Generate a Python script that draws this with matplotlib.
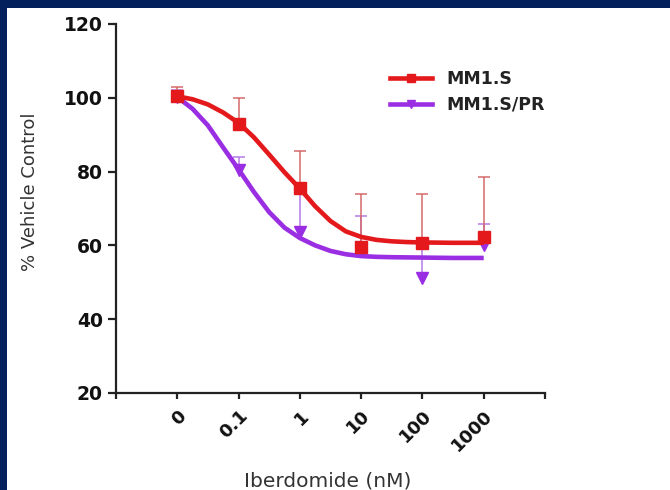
import matplotlib.pyplot as plt
from matplotlib.patches import Rectangle

plt.rcParams['font.family'] = ['DejaVu Sans']

# x categories (plotted at positions 1..6)
dose_labels = ['0', '0.1', '1', '10', '100', '1000']
dose_pos = [1, 2, 3, 4, 5, 6]

# measured points: mean and top of error bar
mm1s_mean = [100.5, 93.0, 75.6, 59.7, 60.6, 62.3]
mm1s_top = [103.0, 100.0, 85.6, 74.0, 74.0, 78.5]
pr_mean = [100.2, 80.4, 63.6, 59.3, 51.2, 60.0]
pr_top = [102.0, 84.0, 76.0, 68.0, 61.0, 65.8]

# fitted curves
fit_pos = [1.0, 1.25, 1.5, 1.75, 2.0, 2.25, 2.5, 2.75, 3.0, 3.25, 3.5,
           3.75, 4.0, 4.25, 4.5, 4.75, 5.0, 5.5, 6.0]
mm1s_fit = [100.4, 99.6, 98.2, 96.0, 93.2, 89.3, 84.6, 79.8, 75.4, 70.6, 66.6,
            63.8, 62.3, 61.5, 61.1, 60.9, 60.8, 60.7, 60.7]
pr_fit = [100.2, 97.0, 92.5, 86.5, 80.6, 74.5, 69.0, 64.8, 62.0, 60.0, 58.5,
          57.6, 57.1, 56.9, 56.8, 56.75, 56.7, 56.6, 56.6]

red = '#e3191c'
purple = '#9a2ee3'
navy = '#03205c'

fig = plt.figure(figsize=(6.7, 4.9), dpi=100)
fig.patch.set_facecolor('white')
# navy frame at top and left
fig.patches.append(Rectangle((0, 1 - 8 / 490), 1, 8 / 490, transform=fig.transFigure,
                             facecolor=navy, edgecolor='none'))
fig.patches.append(Rectangle((0, 0), 7 / 670, 1, transform=fig.transFigure,
                             facecolor=navy, edgecolor='none'))

ax = fig.add_axes([116 / 670, 1 - 393 / 490, 429 / 670, 369 / 490])
ax.set_facecolor('none')

# purple first, red on top
ax.vlines(dose_pos, pr_mean, pr_top, color='#b57be6', lw=1.1, zorder=2)
ax.plot(dose_pos, pr_top, ls='none', marker='_', ms=9, mew=1.1, color='#b57be6', zorder=2)
ax.plot(fit_pos, pr_fit, color=purple, lw=3.3, zorder=3, solid_capstyle='butt')
ax.plot(dose_pos, pr_mean, ls='none', marker='v', ms=8, color=purple, zorder=4)

ax.vlines(dose_pos, mm1s_mean, mm1s_top, color='#d46a6a', lw=1.1, zorder=5)
ax.plot(dose_pos, mm1s_top, ls='none', marker='_', ms=9, mew=1.1, color='#d46a6a', zorder=5)
ax.plot(fit_pos, mm1s_fit, color=red, lw=3.3, zorder=6, solid_capstyle='butt')
ax.plot(dose_pos, mm1s_mean, ls='none', marker='s', ms=8, color=red, zorder=7)

# legend handles
h1, = ax.plot([], [], color=red, lw=3.3, marker='s', ms=6)
h2, = ax.plot([], [], color=purple, lw=3.3, marker='v', ms=6)
leg = ax.legend([h1, h2], ['MM1.S', 'MM1.S/PR'], loc='upper left',
                bbox_to_anchor=(0.639, 0.875), frameon=False, handlelength=2.4,
                handletextpad=0.85, labelspacing=0.45, borderpad=0, borderaxespad=0,
                prop={'weight': 'bold', 'size': 12.5})
for t in leg.get_texts():
    t.set_color('#222222')

ax.set_xlim(0, 7)
ax.set_ylim(20, 120)
ax.set_yticks([20, 40, 60, 80, 100, 120])
ax.set_xticks(range(8))
ax.set_xticklabels([''] + dose_labels + [''])

for s in ['top', 'right']:
    ax.spines[s].set_visible(False)
for s in ['left', 'bottom']:
    ax.spines[s].set_linewidth(1.6)
    ax.spines[s].set_color('#222222')
ax.tick_params(axis='both', width=1.6, color='#222222', labelcolor='#111111')
ax.tick_params(axis='y', length=6, pad=3.5, labelsize=13.5)
ax.tick_params(axis='x', length=4, pad=6, labelsize=13)
for lbl in ax.get_xticklabels():
    lbl.set_rotation(45)
    lbl.set_ha('right')
    lbl.set_va('top')
    lbl.set_rotation_mode('anchor')
for lbl in ax.get_xticklabels() + ax.get_yticklabels():
    lbl.set_fontweight('bold')

fig.text(30 / 670, 1 - 192 / 490, '% Vehicle Control', rotation=90, ha='center',
         va='center', fontsize=13, color='#333333')
fig.text(328 / 670, 1 - 481 / 490, 'Iberdomide (nM)', ha='center', va='center',
         fontsize=14.5, color='#333333')

fig.savefig('out.png', dpi=100)
